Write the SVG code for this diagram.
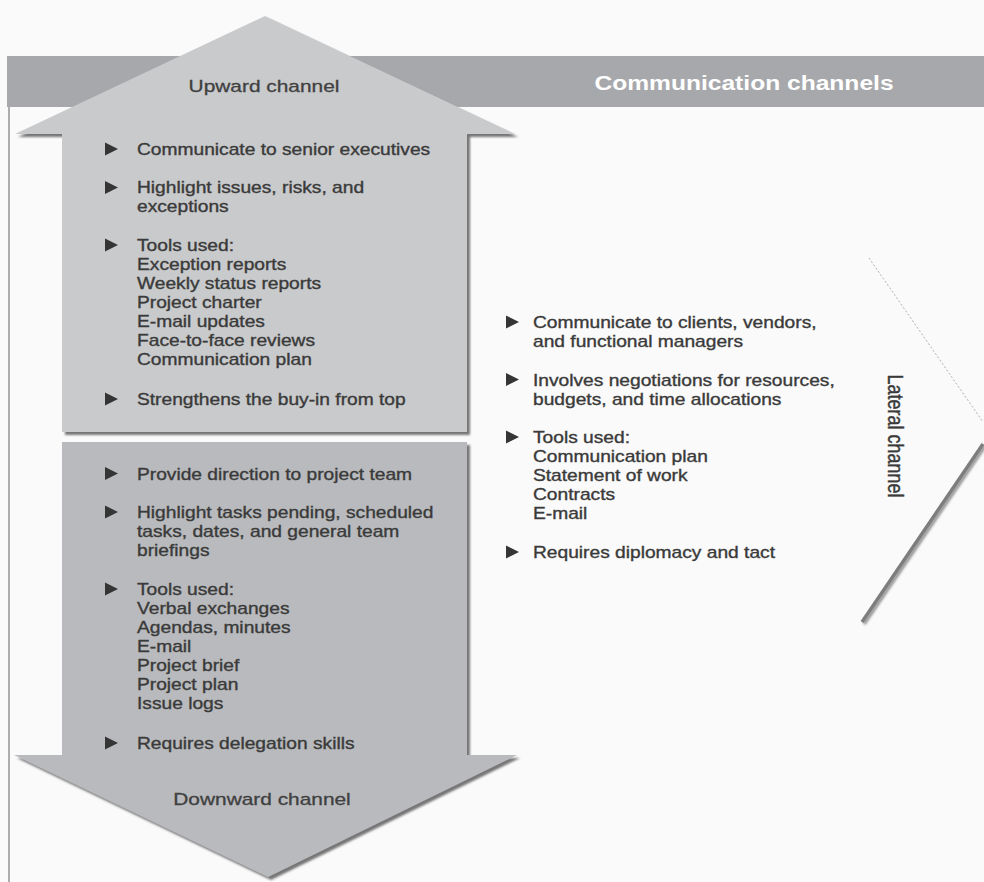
<svg xmlns="http://www.w3.org/2000/svg" width="984" height="882" viewBox="0 0 984 882">
  <defs>
    <filter id="sh" x="-5%" y="-5%" width="112%" height="112%">
      <feDropShadow dx="3" dy="3" stdDeviation="1.3" flood-color="#4a4a4a" flood-opacity="0.75"/>
    </filter>
    <filter id="shl" x="-10%" y="-10%" width="130%" height="130%">
      <feDropShadow dx="2" dy="2" stdDeviation="1" flood-color="#555" flood-opacity="0.6"/>
    </filter>
    <polygon id="bul" points="0,-6.5 13,0 0,6.5"/>
  </defs>
  <style>
    .t { font-family: "Liberation Sans", Arial, sans-serif; font-size: 16px; fill: #3a3a3a; stroke: #3a3a3a; stroke-width: 0.35px; }
    .ttl { font-family: "Liberation Sans", Arial, sans-serif; font-size: 17.4px; fill: #404040; stroke: #404040; stroke-width: 0.3px; text-anchor: middle; }
    .hdr { font-family: "Liberation Sans", Arial, sans-serif; font-size: 20.5px; font-weight: bold; fill: #ffffff; text-anchor: middle; }
    .b { fill: #353535; }
  </style>
  <rect x="0" y="0" width="984" height="882" fill="#fafafa"/>

  <g id="header">
    <rect x="7" y="56" width="977" height="51" fill="#a7a8ab"/>
    <line x1="9" y1="107" x2="9" y2="882" stroke="#9a9a9a" stroke-width="1.6"/>
    <g transform="translate(744 90) scale(1.2 1)">
      <text class="hdr" x="0" y="0">Communication channels</text>
    </g>
  </g>

  <g id="upward">
    <polygon points="265,16 515,134 467,134 467,432 62,432 62,134 15,134" fill="#c9cacc" filter="url(#sh)"/>
    <g transform="translate(264 92) scale(1.2 1)">
      <text class="ttl" x="0" y="0">Upward channel</text>
    </g>
    <g class="b">
      <use href="#bul" x="105" y="149"/>
      <use href="#bul" x="105" y="187.5"/>
      <use href="#bul" x="105" y="245"/>
      <use href="#bul" x="105" y="399"/>
    </g>
    <g transform="translate(137 0) scale(1.2 1)" class="t">
      <text x="0" y="155">Communicate to senior executives</text>
      <text x="0" y="193.5">Highlight issues, risks, and</text>
      <text x="0" y="212.5">exceptions</text>
      <text x="0" y="251">Tools used:</text>
      <text x="0" y="270">Exception reports</text>
      <text x="0" y="289">Weekly status reports</text>
      <text x="0" y="308">Project charter</text>
      <text x="0" y="327">E-mail updates</text>
      <text x="0" y="346">Face-to-face reviews</text>
      <text x="0" y="365">Communication plan</text>
      <text x="0" y="405">Strengthens the buy-in from top</text>
    </g>
  </g>

  <g id="downward">
    <polygon points="62,442 467,442 467,755 517,755 268,877 14,755 62,755" fill="#b9babd" filter="url(#sh)"/>
    <g transform="translate(262 805) scale(1.2 1)">
      <text class="ttl" x="0" y="0">Downward channel</text>
    </g>
    <g class="b">
      <use href="#bul" x="105" y="473.5"/>
      <use href="#bul" x="105" y="512"/>
      <use href="#bul" x="105" y="589"/>
      <use href="#bul" x="105" y="743"/>
    </g>
    <g transform="translate(137 0) scale(1.2 1)" class="t">
      <text x="0" y="480">Provide direction to project team</text>
      <text x="0" y="518.5">Highlight tasks pending, scheduled</text>
      <text x="0" y="537.5">tasks, dates, and general team</text>
      <text x="0" y="556.5">briefings</text>
      <text x="0" y="595">Tools used:</text>
      <text x="0" y="614">Verbal exchanges</text>
      <text x="0" y="633">Agendas, minutes</text>
      <text x="0" y="652">E-mail</text>
      <text x="0" y="671">Project brief</text>
      <text x="0" y="690">Project plan</text>
      <text x="0" y="709">Issue logs</text>
      <text x="0" y="749">Requires delegation skills</text>
    </g>
  </g>

  <g id="lateral">
    <line x1="869" y1="258" x2="983" y2="422" stroke="#b0b0b0" stroke-width="1" stroke-dasharray="2 2"/>
    <line x1="983" y1="444" x2="862" y2="622" stroke="#7d7d7d" stroke-width="3.5" filter="url(#shl)"/>
    <line x1="483" y1="589" x2="855" y2="589" stroke="#7d7d7d" stroke-width="3" filter="url(#shl)"/>
    <g transform="translate(888 436) scale(1.2 1) rotate(90)">
      <text class="t" x="0" y="0" text-anchor="middle" style="font-size:18px">Lateral channel</text>
    </g>
    <g class="b">
      <use href="#bul" x="506" y="322"/>
      <use href="#bul" x="506" y="379.5"/>
      <use href="#bul" x="506" y="437"/>
      <use href="#bul" x="506" y="552"/>
    </g>
    <g transform="translate(533 0) scale(1.2 1)" class="t">
      <text x="0" y="328.5">Communicate to clients, vendors,</text>
      <text x="0" y="347.5">and functional managers</text>
      <text x="0" y="386">Involves negotiations for resources,</text>
      <text x="0" y="405">budgets, and time allocations</text>
      <text x="0" y="443.5">Tools used:</text>
      <text x="0" y="462.5">Communication plan</text>
      <text x="0" y="481.5">Statement of work</text>
      <text x="0" y="500.5">Contracts</text>
      <text x="0" y="519.5">E-mail</text>
      <text x="0" y="558.5">Requires diplomacy and tact</text>
    </g>
  </g>
</svg>
